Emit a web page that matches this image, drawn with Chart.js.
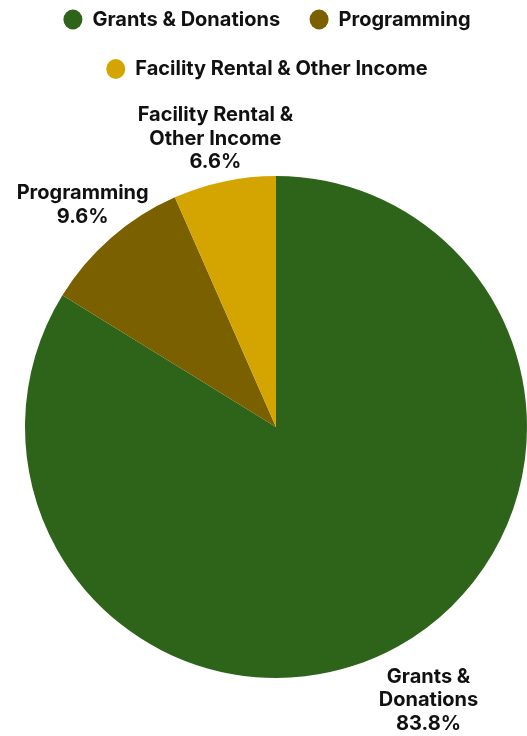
<!DOCTYPE html>
<html>
<head>
<meta charset="utf-8">
<script src="https://cdn.jsdelivr.net/npm/chart.js@4"></script>
<style>
  html, body { margin: 0; padding: 0; background: #ffffff; }
  #wrap { width: 527px; height: 736px; position: relative; }
</style>
</head>
<body>
<div id="wrap"><canvas id="c"></canvas></div>
<script>
const categories = ['Grants & Donations', 'Programming', 'Facility Rental & Other Income'];
const labelLines = [['Grants &', 'Donations'], ['Programming'], ['Facility Rental &', 'Other Income']];
const values = [83.8, 9.6, 6.6];
const colors = ['#2E641A', '#7B6000', '#D4A500'];

const FONT = 'Inter, "Noto Sans", "DejaVu Sans", sans-serif';

// Adds empty space below the legend so the pie sits lower, and nudges legend left
const legendSpacer = {
  id: 'legendSpacer',
  afterInit(chart) {
    const lg = chart.legend;
    if (!lg) return;
    const fit = lg.fit;
    lg.fit = function () { fit.call(this); this.height += 29; };
  },
  afterLayout(chart) {
    const lg = chart.legend;
    if (!lg) return;
    lg.left -= 9;
    lg.right -= 9;
  }
};

const outsideLabels = {
  id: 'outsideLabels',
  afterDatasetsDraw(chart) {
    const ctx = chart.ctx;
    const meta = chart.getDatasetMeta(0);
    const data = chart.data.datasets[0].data;
    const total = data.reduce((a, b) => a + b, 0);
    ctx.save();
    ctx.font = 'bold 20px ' + FONT;
    ctx.fillStyle = '#111111';
    ctx.textAlign = 'center';
    ctx.textBaseline = 'middle';
    const lh = 23.5;
    meta.data.forEach((arc, i) => {
      const p = arc.getProps(['x', 'y', 'startAngle', 'endAngle', 'outerRadius'], true);
      const mid = (p.startAngle + p.endAngle) / 2;
      const dist = p.outerRadius + 43.5 + (Math.sin(mid) > 0 ? 18.5 : 0);
      const cx = p.x + Math.cos(mid) * dist;
      const cy = p.y + Math.sin(mid) * dist;
      const lines = labelLines[i].concat([(data[i] / total * 100).toFixed(1) + '%']);
      const startY = cy - (lines.length - 1) * lh / 2;
      lines.forEach((t, k) => ctx.fillText(t, cx, startY + k * lh));
    });
    ctx.restore();
  }
};

new Chart(document.getElementById('c'), {
  type: 'pie',
  data: {
    labels: categories,
    datasets: [{
      data: values,
      backgroundColor: colors,
      borderWidth: 0
    }]
  },
  options: {
    responsive: true,
    maintainAspectRatio: false,
    animation: false,
    layout: { padding: { top: -20, left: 25, right: 0, bottom: 0 } },
    plugins: {
      legend: {
        position: 'top',
        labels: {
          usePointStyle: true,
          pointStyle: 'circle',
          boxHeight: 14,
          pointStyleWidth: 19,
          padding: 29.5,
          color: '#111111',
          font: { family: FONT, size: 20, weight: 'bold' }
        }
      },
      tooltip: { enabled: false }
    }
  },
  plugins: [legendSpacer, outsideLabels]
});
</script>
</body>
</html>
